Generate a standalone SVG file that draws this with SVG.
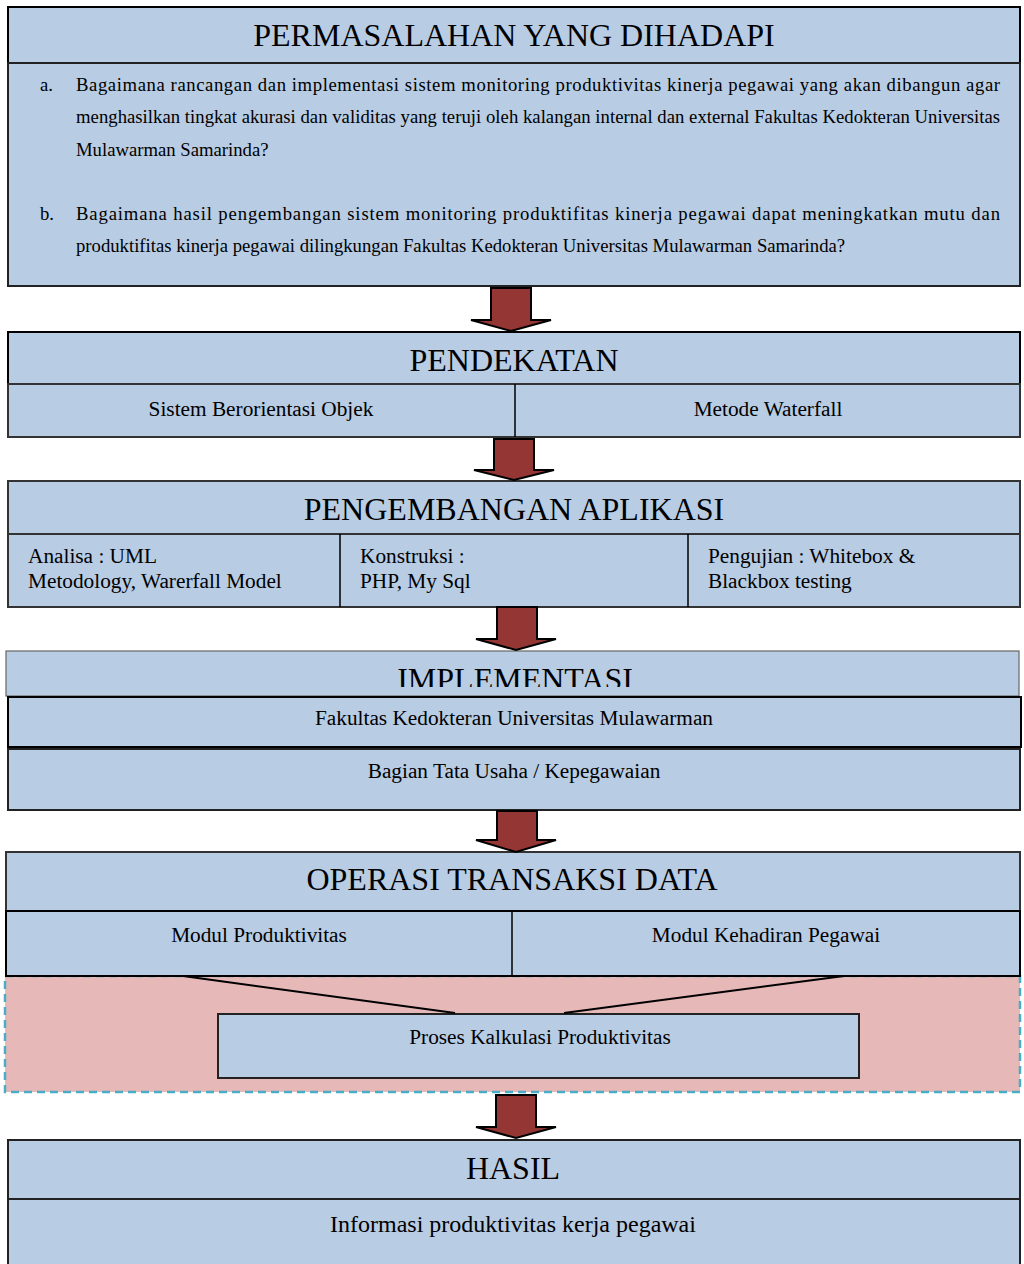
<svg xmlns="http://www.w3.org/2000/svg" width="1024" height="1264" viewBox="0 0 1024 1264">
  <style>
    .box { fill: #b8cce4; stroke: #000; stroke-width: 2; }
    .thin { fill: #b8cce4; stroke: #666; stroke-width: 1.2; }
    .div { stroke: #000; stroke-width: 1.5; }
    .title { font-family: "Liberation Serif", "Times New Roman", serif; font-size: 32px; fill: #000; text-anchor: middle; }
    .lbl { font-family: "Liberation Serif", "Times New Roman", serif; font-size: 21.3px; fill: #000; }
    .mid { text-anchor: middle; }
    .body { font-family: "Liberation Serif", "Times New Roman", serif; font-size: 18.7px; fill: #000; }
    .arrow { fill: #943634; stroke: #000; stroke-width: 2; stroke-linejoin: miter; }
  </style>
  <defs>
    <clipPath id="implClip">
      <rect x="0" y="640" width="1024" height="47"/>
    </clipPath>
  </defs>
  <rect width="1024" height="1264" fill="#fff"/>

  <!-- Problems -->
  <g id="permasalahan">
    <rect class="box" x="8" y="7" width="1012" height="56"/>
    <rect class="box" x="8" y="63" width="1012" height="223" style="stroke:#222"/>
    <text class="title" x="514" y="46">PERMASALAHAN YANG DIHADAPI</text>
    <text class="body" x="40" y="91">a.</text>
    <text class="body" x="76" y="91" textLength="924" lengthAdjust="spacing">Bagaimana rancangan dan implementasi sistem monitoring produktivitas kinerja pegawai yang akan dibangun agar</text>
    <text class="body" x="76" y="123" textLength="924" lengthAdjust="spacing">menghasilkan tingkat akurasi dan validitas yang teruji oleh kalangan internal dan external Fakultas Kedokteran Universitas</text>
    <text class="body" x="76" y="156">Mulawarman Samarinda?</text>
    <text class="body" x="40" y="220">b.</text>
    <text class="body" x="76" y="220" textLength="924" lengthAdjust="spacing">Bagaimana hasil pengembangan sistem monitoring produktifitas kinerja pegawai dapat meningkatkan mutu dan</text>
    <text class="body" x="76" y="252">produktifitas kinerja pegawai dilingkungan Fakultas Kedokteran Universitas Mulawarman Samarinda?</text>
  </g>

  <!-- Approach -->
  <g id="pendekatan">
    <rect class="box" x="8" y="332" width="1012" height="52"/>
    <rect class="box" x="8" y="384" width="1012" height="53" style="stroke:#333"/>
    <line class="div" x1="515" y1="384" x2="515" y2="437"/>
    <text class="title" x="514" y="371">PENDEKATAN</text>
    <text class="lbl mid" x="261" y="416">Sistem Berorientasi Objek</text>
    <text class="lbl mid" x="768" y="416">Metode Waterfall</text>
  </g>

  <!-- Application development -->
  <g id="pengembangan">
    <rect class="box" x="8" y="481" width="1012" height="53" style="stroke:#333"/>
    <rect class="box" x="8" y="534" width="1012" height="73" style="stroke:#333"/>
    <line class="div" x1="340" y1="534" x2="340" y2="607"/>
    <line class="div" x1="688" y1="534" x2="688" y2="607"/>
    <text class="title" x="514" y="520">PENGEMBANGAN APLIKASI</text>
    <text class="lbl" x="28" y="563">Analisa : UML</text>
    <text class="lbl" x="28" y="588">Metodology, Warerfall Model</text>
    <text class="lbl" x="360" y="563">Konstruksi :</text>
    <text class="lbl" x="360" y="588">PHP, My Sql</text>
    <text class="lbl" x="708" y="563">Pengujian : Whitebox &amp;</text>
    <text class="lbl" x="708" y="588">Blackbox testing</text>
  </g>

  <!-- Implementation -->
  <g id="implementasi">
    <rect class="thin" x="6" y="651" width="1013" height="45"/>
    <text class="title" x="515" y="690" clip-path="url(#implClip)">IMPLEMENTASI</text>
    <rect class="box" x="8" y="697" width="1013" height="50"/>
    <rect class="box" x="8" y="749" width="1012" height="61" style="stroke:#222"/>
    <text class="lbl mid" x="514" y="725">Fakultas Kedokteran Universitas Mulawarman</text>
    <text class="lbl mid" x="514" y="778">Bagian Tata Usaha / Kepegawaian</text>
  </g>

  <!-- Data transaction operations -->
  <g id="operasi">
    <rect x="5" y="976" width="1015" height="116" fill="#e6b8b7" stroke="#4bacc6" stroke-width="2.5" stroke-dasharray="8 5"/>
    <rect class="box" x="6" y="852" width="1014" height="59" style="stroke:#333"/>
    <rect class="box" x="6" y="911" width="1014" height="65"/>
    <line class="div" x1="512" y1="911" x2="512" y2="976"/>
    <text class="title" x="512" y="890">OPERASI TRANSAKSI DATA</text>
    <text class="lbl mid" x="259" y="942">Modul Produktivitas</text>
    <text class="lbl mid" x="766" y="942">Modul Kehadiran Pegawai</text>
  </g>
  <g id="proses">
    <rect class="box" x="218" y="1014" width="641" height="64" style="stroke:#222"/>
    <text class="lbl mid" x="540" y="1044">Proses Kalkulasi Produktivitas</text>
  </g>

  <!-- Results -->
  <g id="hasil">
    <rect class="box" x="8" y="1140" width="1012" height="59" style="stroke:#222"/>
    <rect class="box" x="8" y="1199" width="1012" height="75" style="stroke:#222"/>
    <text class="title" x="513" y="1179">HASIL</text>
    <text class="lbl mid" x="513" y="1232" style="font-size:24px">Informasi produktivitas kerja pegawai</text>
  </g>

  <!-- Connectors -->
  <g id="connectors">
    <line x1="183" y1="976" x2="455" y2="1013" stroke="#000" stroke-width="2"/>
    <line x1="844" y1="976" x2="564" y2="1013" stroke="#000" stroke-width="2"/>
    <polygon class="arrow" points="491,288 531,288 531,320 551,320 511,331 471,320 491,320"/>
    <polygon class="arrow" points="494,439 534,439 534,470 554,470 514,480 474,470 494,470"/>
    <polygon class="arrow" points="497,607 537,607 537,639 556,639 516,650 476,639 497,639"/>
    <polygon class="arrow" points="497,811 537,811 537,840 556,840 516,852 476,840 497,840"/>
    <polygon class="arrow" points="496,1095 536,1095 536,1127 556,1127 516,1138 476,1127 496,1127"/>
  </g>
</svg>
